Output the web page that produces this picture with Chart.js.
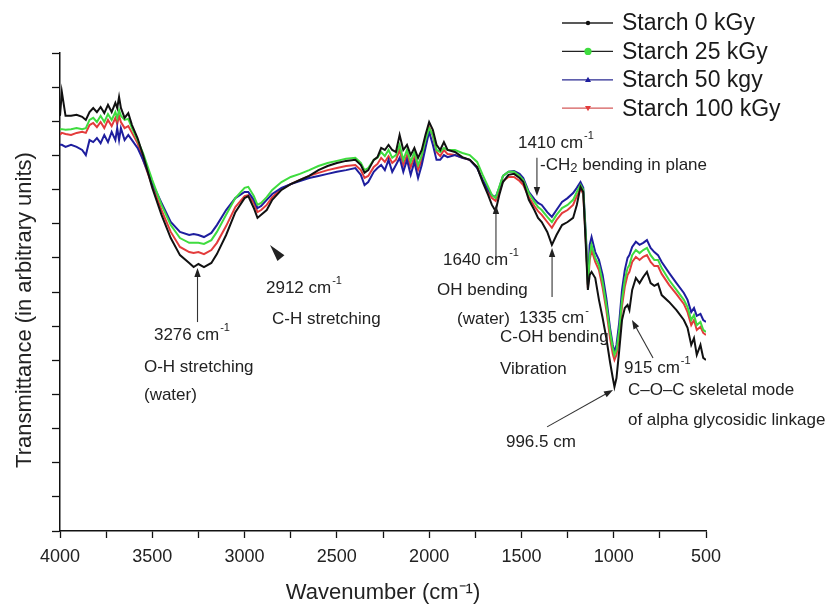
<!DOCTYPE html>
<html><head><meta charset="utf-8">
<style>html,body{margin:0;padding:0;background:#fff}canvas{display:block}</style>
<script src="https://cdn.jsdelivr.net/npm/chart.js@4.4.1/dist/chart.umd.min.js"></script>
</head><body>
<canvas id="c" width="826" height="606"></canvas>
<script>
const wavenumber = [4000,3990,3970,3940,3910,3880,3860,3840,3820,3800,
3780,3760,3740,3720,3700,3690,3680,3670,3650,3630,
3610,3580,3550,3500,3450,3400,3350,3300,3276,3250,
3220,3180,3150,3100,3050,3000,2980,2950,2930,2910,
2880,2850,2800,2750,2700,2650,2600,2550,2500,2450,
2400,2370,2350,2330,2300,2280,2260,2240,2220,2200,
2180,2160,2140,2120,2100,2080,2060,2040,2020,2000,
1980,1960,1940,1920,1900,1860,1820,1780,1740,1710,
1680,1660,1640,1620,1600,1570,1540,1510,1490,1460,
1430,1410,1390,1360,1335,1310,1280,1250,1220,1200,
1180,1165,1150,1140,1130,1120,1100,1080,1060,1040,
1020,1005,996,985,970,955,940,925,915,900,
880,860,840,820,800,780,760,740,700,660,
620,600,580,565,550,530,515,500];

const starch0 = [12.16,12.86,12.16,12.16,12.19,12.13,12.04,12.27,12.39,12.27,
12.42,12.24,12.48,12.27,12.54,12.39,12.71,12.39,12.10,12.24,
11.89,11.51,11.01,10.05,9.26,8.58,8.08,7.85,7.73,7.82,
7.73,7.85,8.11,8.67,9.34,9.75,9.81,9.46,9.17,9.26,
9.40,9.70,9.99,10.16,10.28,10.40,10.57,10.69,10.78,10.84,
10.87,10.72,10.49,10.57,10.87,10.95,11.22,11.16,11.31,11.16,
11.10,11.60,11.16,11.31,11.01,11.22,10.93,11.16,11.60,11.98,
11.75,11.31,11.16,11.39,11.16,11.10,10.95,10.87,10.66,10.22,
9.84,9.55,9.37,9.84,10.22,10.43,10.46,10.34,10.22,9.70,
9.40,9.17,9.05,8.76,8.38,8.67,8.96,9.05,9.17,9.55,
10.08,9.93,8.23,7.06,7.50,7.59,7.41,6.77,6.24,5.65,
4.95,4.48,4.22,4.48,5.30,6.18,6.53,6.62,6.47,7.06,
7.41,7.26,7.44,7.59,7.26,7.18,7.24,6.91,6.71,6.47,
6.18,5.95,5.45,5.65,5.16,5.45,5.07,5.01];

const starch25 = [11.77,11.77,11.75,11.77,11.80,11.77,11.80,12.04,12.10,11.98,
12.16,11.98,12.21,12.04,12.27,12.10,12.33,12.16,12.04,12.07,
11.80,11.45,11.07,10.28,9.55,8.96,8.58,8.44,8.44,8.44,
8.41,8.52,8.76,9.26,9.75,10.05,10.08,9.81,9.55,9.61,
9.78,9.99,10.22,10.37,10.46,10.57,10.69,10.78,10.84,10.90,
10.93,10.78,10.57,10.63,10.87,10.93,11.10,10.98,11.16,10.93,
11.01,11.31,10.87,11.16,10.81,11.10,10.72,11.01,11.45,11.80,
11.60,11.16,11.10,11.22,11.16,11.16,11.07,11.01,10.81,10.43,
10.08,9.84,9.75,10.08,10.40,10.52,10.52,10.40,10.28,9.90,
9.64,9.49,9.40,9.20,9.05,9.26,9.46,9.55,9.70,9.93,
10.13,9.99,8.52,7.21,8.08,8.38,8.00,7.79,7.29,6.62,
5.83,5.36,5.16,5.30,5.89,6.77,7.35,7.70,7.79,8.08,
8.23,8.14,8.23,8.29,8.08,7.94,7.94,7.70,7.35,7.06,
6.77,6.56,6.18,6.33,6.03,6.12,5.89,5.83];

const starch50 = [11.31,11.31,11.25,11.31,11.25,11.16,11.01,11.45,11.39,11.51,
11.36,11.60,11.39,11.69,11.45,11.80,11.45,11.80,11.45,11.60,
11.45,11.22,10.87,10.19,9.61,9.05,8.76,8.67,8.70,8.67,
8.61,8.73,8.96,9.40,9.75,9.93,9.93,9.70,9.46,9.52,
9.70,9.87,10.05,10.16,10.25,10.34,10.40,10.46,10.52,10.57,
10.63,10.43,10.13,10.22,10.52,10.63,10.72,10.57,10.87,10.52,
10.72,10.93,10.52,10.87,10.43,10.81,10.34,10.72,11.22,11.69,
11.31,10.87,10.87,11.01,10.95,11.01,10.93,10.87,10.63,10.28,
9.99,9.84,9.78,10.05,10.40,10.52,10.54,10.46,10.34,9.93,
9.72,9.61,9.55,9.34,9.20,9.40,9.64,9.75,9.90,10.05,
10.22,10.05,8.58,7.21,8.38,8.61,8.17,7.94,7.50,6.82,
5.95,5.45,5.24,5.45,6.12,7.06,7.64,8.00,8.08,8.32,
8.47,8.38,8.44,8.52,8.29,8.17,8.08,7.88,7.56,7.26,
6.97,6.77,6.41,6.53,6.30,6.36,6.18,6.12];

const starch100 = [11.60,11.66,11.63,11.60,11.66,11.69,11.66,11.89,11.95,11.83,
11.98,11.80,12.04,11.86,12.10,11.92,12.16,11.98,11.80,11.86,
11.66,11.36,10.87,10.11,9.40,8.76,8.32,8.17,8.14,8.17,
8.11,8.23,8.44,8.93,9.49,9.81,9.84,9.61,9.34,9.40,
9.55,9.78,10.02,10.16,10.28,10.40,10.49,10.57,10.63,10.69,
10.72,10.57,10.34,10.40,10.66,10.75,10.93,10.81,10.98,10.78,
10.87,11.16,10.72,11.01,10.66,10.95,10.57,10.87,11.39,11.83,
11.57,11.10,10.98,11.16,11.04,11.01,10.93,10.87,10.66,10.28,
9.93,9.75,9.67,9.93,10.25,10.37,10.37,10.25,10.13,9.78,
9.52,9.37,9.26,9.05,8.88,9.11,9.31,9.40,9.55,9.81,
10.02,9.87,8.38,7.12,7.94,8.23,7.88,7.64,7.12,6.47,
5.65,5.18,5.01,5.16,5.71,6.59,7.15,7.50,7.59,7.88,
8.03,7.94,8.03,8.08,7.88,7.76,7.76,7.53,7.21,6.94,
6.65,6.41,6.03,6.18,5.89,5.98,5.80,5.74];

const seriesLabels = ['Starch 0 kGy','Starch 25 kGy','Starch 50 kgy','Starch 100 kGy'];
const xTickLabels = [4000,3500,3000,2500,2000,1500,1000,500];

// annotation texts anchored in data space (wavenumber, transmittance)
const noteTexts = [
  {w:3491, v:5.74, seg:[['3276 cm'],['-1','sup']]},
  {w:3545, v:4.80, seg:[['O-H stretching']]},
  {w:3545, v:3.98, seg:[['(water)']]},
  {w:2884, v:7.12, seg:[['2912 cm'],['-1','sup']]},
  {w:2851, v:6.21, seg:[['C-H stretching']]},
  {w:1925, v:7.94, seg:[['1640 cm'],['-1','sup']]},
  {w:1957, v:7.06, seg:[['OH bending']]},
  {w:1849, v:6.21, seg:[['(water)']]},
  {w:1513, v:6.24, seg:[['1335 cm'],['-','sup']]},
  {w:1616, v:5.68, seg:[['C-OH bending']]},
  {w:1616, v:4.75, seg:[['Vibration']]},
  {w:1519, v:11.36, seg:[['1410 cm'],['-1','sup']]},
  {w:1399, v:10.72, seg:[['-CH'],['2','sub'],[' bending in plane']]},
  {w:944, v:4.77, seg:[['915 cm'],['-1','sup']]},
  {w:923, v:4.13, seg:[['C\u2013O\u2013C skeletal mode']]},
  {w:923, v:3.25, seg:[['of alpha glycosidic linkage']]},
  {w:1584, v:2.61, seg:[['996.5 cm']]}
];
const noteArrows = [
  {from:[3255,6.12], to:[3255,7.70]},
  {from:[2803,7.99], to:[2862,8.38], headOnly:true},
  {from:[1638,7.85], to:[1638,9.55]},
  {from:[1334,6.85], to:[1334,8.29]},
  {from:[1416,10.93], to:[1416,9.81]},
  {from:[787,5.07], to:[901,6.18]},
  {from:[1361,3.05], to:[1004,4.13]}
];

const FONT = '"Liberation Sans", Arial, Helvetica, sans-serif';
Chart.defaults.font.family = FONT;

const colors = ['#111111','#3fdc3f','#1e1e9e','#e33b3b'];
const legendLine = ['#222222','#222222','#2a2a92','#d45a5a'];
const legendMarker = [['circle',2.2],['circle',3.6],['tri',3],['triDown',3]];

function drawRich(ctx, x, y, segs, size) {
  let cx = x;
  for (const [t, kind] of segs) {
    if (kind === 'sup') {
      ctx.font = Math.round(size*0.62) + 'px ' + FONT;
      ctx.fillText(t, cx + 1, y - size*0.42);
      cx += ctx.measureText(t).width + 1;
    } else if (kind === 'sub') {
      ctx.font = Math.round(size*0.78) + 'px ' + FONT;
      ctx.fillText(t, cx, y + size*0.2);
      cx += ctx.measureText(t).width;
    } else {
      ctx.font = size + 'px ' + FONT;
      ctx.fillText(t, cx, y);
      cx += ctx.measureText(t).width;
    }
  }
}

function drawArrow(ctx, x1, y1, x2, y2, headOnly) {
  const ang = Math.atan2(y2 - y1, x2 - x1);
  const dx = Math.cos(ang), dy = Math.sin(ang);
  const L = headOnly ? Math.hypot(x2 - x1, y2 - y1) : 9;
  const W = headOnly ? 4.5 : 3.2;
  if (!headOnly) {
    ctx.beginPath();
    ctx.moveTo(x1, y1);
    ctx.lineTo(x2 - dx*L*0.7, y2 - dy*L*0.7);
    ctx.stroke();
  }
  const bx = x2 - dx*L, by = y2 - dy*L;
  ctx.beginPath();
  ctx.moveTo(x2, y2);
  ctx.lineTo(bx - dy*W, by + dx*W);
  ctx.lineTo(bx + dy*W, by - dx*W);
  ctx.closePath();
  ctx.fill();
}

const decorPlugin = {
  id: 'decor',
  afterDraw(chart) {
    const ctx = chart.ctx;
    const xs = chart.scales.x, ys = chart.scales.y;
    ctx.save();
    // annotations
    ctx.fillStyle = '#222';
    ctx.strokeStyle = '#333';
    ctx.lineWidth = 1.1;
    ctx.textBaseline = 'middle';
    ctx.textAlign = 'left';
    for (const n of noteTexts) {
      drawRich(ctx, xs.getPixelForValue(n.w), ys.getPixelForValue(n.v), n.seg, 17);
    }
    for (const a of noteArrows) {
      drawArrow(ctx, xs.getPixelForValue(a.from[0]), ys.getPixelForValue(a.from[1]),
                xs.getPixelForValue(a.to[0]), ys.getPixelForValue(a.to[1]), a.headOnly);
    }
    // y axis title
    ctx.save();
    ctx.translate(25, 310);
    ctx.rotate(-Math.PI/2);
    ctx.textAlign = 'center';
    ctx.font = '22px ' + FONT;
    ctx.fillStyle = '#222';
    ctx.fillText('Transmittance (in arbitrary units)', 0, 0);
    ctx.restore();
    // legend
    chart.data.datasets.forEach((ds, i) => {
      const y = 23 + i*28.4;
      ctx.strokeStyle = legendLine[i];
      ctx.lineWidth = 1.3;
      ctx.beginPath(); ctx.moveTo(562, y); ctx.lineTo(613, y); ctx.stroke();
      const [shape, r] = legendMarker[i];
      ctx.fillStyle = ds.borderColor;
      ctx.beginPath();
      if (shape === 'circle') ctx.arc(588, y, r, 0, Math.PI*2);
      else if (shape === 'tri') { ctx.moveTo(588, y - r); ctx.lineTo(588 + r, y + r*0.7); ctx.lineTo(588 - r, y + r*0.7); ctx.closePath(); }
      else { ctx.moveTo(588, y + r); ctx.lineTo(588 + r, y - r*0.7); ctx.lineTo(588 - r, y - r*0.7); ctx.closePath(); }
      ctx.fill();
      ctx.fillStyle = '#1a1a1a';
      ctx.font = '23px ' + FONT;
      ctx.textAlign = 'left';
      ctx.textBaseline = 'middle';
      ctx.fillText(ds.label, 622, y + 1);
    });
    ctx.restore();
  }
};

const seriesValues = [starch0, starch25, starch50, starch100];
const datasets = seriesValues.map((vals, i) => ({
  label: seriesLabels[i],
  data: wavenumber.map((w, k) => ({x: w, y: vals[k]})),
  borderColor: colors[i],
  backgroundColor: colors[i],
  borderWidth: 2,
  pointRadius: 0,
  tension: 0,
  fill: false
}));

new Chart(document.getElementById('c'), {
  type: 'line',
  data: { datasets },
  options: {
    responsive: false,
    devicePixelRatio: 1,
    animation: false,
    layout: { padding: { top: 53, right: 120, left: 0, bottom: 0 } },
    plugins: { legend: { display: false }, tooltip: { enabled: false } },
    scales: {
      x: {
        type: 'linear', reverse: true, min: 500, max: 4000,
        ticks: {
          stepSize: 250, autoSkip: false, maxRotation: 0, padding: 8,
          color: '#222', font: { size: 18 },
          callback: v => xTickLabels.includes(v) ? String(v) : ''
        },
        grid: { display: true, drawOnChartArea: false, drawTicks: true, tickLength: 7, color: '#111', tickWidth: 1.3 },
        border: { display: true, color: '#111', width: 1.5 },
        title: { display: true, text: 'Wavenumber (cm\u207B\u00B9)', color: '#222', font: { size: 22 }, padding: { top: 3, bottom: 0 } },
        afterFit: s => { s.height = 75; s.paddingLeft = 0; s.paddingRight = 0; }
      },
      y: {
        type: 'linear', min: 0, max: 14,
        ticks: { stepSize: 1, callback: () => '', padding: 0 },
        grid: { display: true, drawOnChartArea: false, drawTicks: true, tickLength: 8, color: '#111', tickWidth: 1.3 },
        border: { display: true, color: '#111', width: 1.5 },
        afterFit: s => { s.width = 60; s.paddingTop = 0; s.paddingBottom = 0; }
      }
    }
  },
  plugins: [decorPlugin]
});
</script>
</body></html>
